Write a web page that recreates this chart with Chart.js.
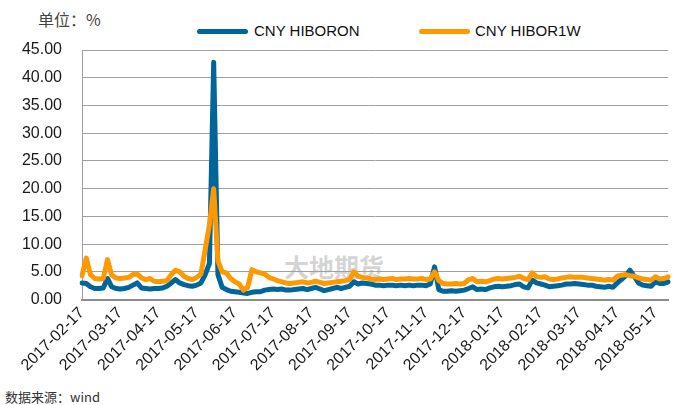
<!DOCTYPE html>
<html>
<head>
<meta charset="utf-8">
<script src="https://cdn.jsdelivr.net/npm/chart.js@4.4.1/dist/chart.umd.min.js"></script>
<style>
  body { margin: 0; background: #fff; }
  #wrap { position: relative; width: 673px; height: 405px; overflow: hidden; font-family: "Liberation Sans", Arial, sans-serif; }
  #chart { position: absolute; left: 0; top: 0; z-index: 1; }
  .txt { position: absolute; white-space: nowrap; }
  #unit { left: 38px; top: 7px; font: 16px "Noto Sans CJK SC", sans-serif; color: #444; }
  #src { left: 5px; top: 387px; font: 13px "Noto Sans CJK SC", sans-serif; color: #333; }
  #mark { left: 284px; top: 248px; font: bold 25px "Noto Sans CJK SC", sans-serif; color: rgba(120,120,120,0.33); z-index: 0; }
  .key { position: absolute; top: 29px; width: 51px; height: 5px; border-radius: 3px; }
  .ktxt { position: absolute; top: 22px; font-size: 15px; color: #111; }
</style>
</head>
<body>
<div id="wrap">
  <div id="mark" class="txt">大地期货</div>
  <canvas id="chart" width="673" height="405"></canvas>
  <div id="unit" class="txt">单位：%</div>
  <div class="key" style="left:197px;background:#00659b"></div>
  <div class="ktxt" style="left:254px">CNY HIBORON</div>
  <div class="key" style="left:419px;background:#ff9900"></div>
  <div class="ktxt" style="left:475px">CNY HIBOR1W</div>
  <div id="src" class="txt">数据来源：wind</div>
</div>
<script>
// 日期（约每3-4天取一个点）
const dates = [
  '2017-02-17','2017-02-20','2017-02-24','2017-02-27',
  '2017-03-01','2017-03-04','2017-03-08','2017-03-11','2017-03-14','2017-03-17','2017-03-20','2017-03-24','2017-03-27',
  '2017-04-01','2017-04-04','2017-04-08','2017-04-11','2017-04-14','2017-04-17','2017-04-20','2017-04-24','2017-04-27',
  '2017-05-01','2017-05-04','2017-05-08','2017-05-11','2017-05-14','2017-05-17','2017-05-20','2017-05-24','2017-05-27',
  '2017-06-01','2017-06-04','2017-06-08','2017-06-11','2017-06-14','2017-06-17','2017-06-20','2017-06-24','2017-06-27',
  '2017-07-01','2017-07-04','2017-07-08','2017-07-11','2017-07-14','2017-07-17','2017-07-20','2017-07-24','2017-07-27',
  '2017-08-01','2017-08-04','2017-08-08','2017-08-11','2017-08-14','2017-08-17','2017-08-20','2017-08-24','2017-08-27',
  '2017-09-01','2017-09-04','2017-09-08','2017-09-11','2017-09-14','2017-09-17','2017-09-20','2017-09-24','2017-09-27',
  '2017-10-01','2017-10-04','2017-10-08','2017-10-11','2017-10-14','2017-10-17','2017-10-20','2017-10-24','2017-10-27',
  '2017-11-01','2017-11-04','2017-11-08','2017-11-11','2017-11-14','2017-11-17','2017-11-20','2017-11-24','2017-11-27',
  '2017-12-01','2017-12-04','2017-12-08','2017-12-11','2017-12-14','2017-12-17','2017-12-20','2017-12-24','2017-12-27',
  '2018-01-01','2018-01-04','2018-01-08','2018-01-11','2018-01-14','2018-01-17','2018-01-20','2018-01-24','2018-01-27',
  '2018-02-01','2018-02-04','2018-02-08','2018-02-11','2018-02-14','2018-02-17','2018-02-20','2018-02-24','2018-02-27',
  '2018-03-01','2018-03-04','2018-03-08','2018-03-11','2018-03-14','2018-03-17','2018-03-20','2018-03-24','2018-03-27',
  '2018-04-01','2018-04-04','2018-04-08','2018-04-11','2018-04-14','2018-04-17','2018-04-20','2018-04-24','2018-04-27',
  '2018-05-01','2018-05-04','2018-05-08','2018-05-11','2018-05-14','2018-05-17','2018-05-20','2018-05-24','2018-05-27'
];

// 坐标轴上显示的日期
const tickLabels = [
  '2017-02-17','2017-03-17','2017-04-17','2017-05-17','2017-06-17','2017-07-17','2017-08-17','2017-09-17',
  '2017-10-17','2017-11-17','2017-12-17','2018-01-17','2018-02-17','2018-03-17','2018-04-17','2018-05-17'
];

// CNY HIBOR 隔夜
const hiborON = [
  3.0, 2.9, 2.3, 2.0, 2.0, 2.1, 3.8, 2.3, 2.0, 1.9,
  2.0, 2.2, 2.6, 3.0, 2.1, 2.0, 1.9, 2.0, 2.0, 2.1,
  2.4, 3.0, 3.6, 3.0, 2.7, 2.5, 2.4, 2.6, 3.0, 4.5,
  6.5, 42.8, 4.5, 2.2, 1.8, 1.5, 1.4, 1.3, 1.2, 1.1,
  1.3, 1.4, 1.4, 1.7, 1.8, 1.9, 1.8, 1.9, 1.7, 1.7,
  1.8, 1.9, 2.0, 1.8, 2.0, 2.2, 1.9, 1.6, 1.8, 2.0,
  2.2, 2.0, 2.2, 2.4, 3.2, 2.8, 3.0, 2.9, 2.8, 2.6,
  2.6, 2.5, 2.6, 2.6, 2.5, 2.6, 2.5, 2.6, 2.5, 2.6,
  2.6, 2.5, 2.8, 5.9, 1.8, 1.5, 1.5, 1.6, 1.5, 1.6,
  1.7, 2.0, 2.3, 1.8, 1.9, 1.8, 2.1, 2.3, 2.4, 2.3,
  2.4, 2.5, 2.7, 2.8, 2.3, 2.1, 3.5, 3.0, 2.8, 2.6,
  2.3, 2.4, 2.5, 2.6, 2.8, 2.8, 2.9, 2.8, 2.7, 2.6,
  2.6, 2.4, 2.3, 2.2, 2.4, 2.2, 3.0, 3.6, 4.3, 5.3,
  4.2, 3.0, 2.6, 2.5, 2.4, 3.2, 2.9, 2.9, 3.2
];

// CNY HIBOR 1周
const hibor1W = [
  4.3, 7.5, 4.5, 3.8, 3.7, 3.8, 7.2, 4.4, 3.9, 3.8,
  3.9, 4.0, 4.5, 4.6, 3.9, 3.6, 3.8, 3.3, 3.2, 3.3,
  3.4, 4.5, 5.3, 5.0, 4.2, 3.8, 3.6, 4.0, 4.6, 9.0,
  13.5, 20.0, 7.0, 5.0, 4.8, 3.8, 3.2, 2.8, 1.7, 2.2,
  5.4, 5.0, 4.8, 4.6, 4.0, 3.7, 3.4, 3.2, 3.0, 2.9,
  3.0, 3.1, 3.2, 3.0, 3.1, 3.3, 3.1, 2.9, 3.0, 3.1,
  3.2, 3.3, 3.4, 3.6, 5.0, 4.2, 4.0, 3.9, 3.7, 3.6,
  3.7, 3.6, 3.7, 3.8, 3.6, 3.7, 3.7, 3.8, 3.7, 3.7,
  3.8, 3.6, 3.7, 5.0, 3.4, 2.9, 2.8, 2.8, 2.9, 2.8,
  2.9, 3.6, 3.8, 3.2, 3.3, 3.2, 3.4, 3.7, 3.8, 3.7,
  3.8, 3.9, 4.0, 4.2, 3.8, 3.6, 4.8, 4.1, 4.0, 4.1,
  3.7, 3.6, 3.7, 3.9, 4.0, 4.1, 4.0, 4.0, 4.0, 3.9,
  3.8, 3.7, 3.6, 3.5, 3.6, 3.5, 4.2, 4.4, 4.5, 4.3,
  4.2, 3.9, 3.7, 3.6, 3.5, 4.1, 3.7, 3.8, 4.1
];

const ctx = document.getElementById('chart').getContext('2d');

new Chart(ctx, {
  type: 'line',
  data: {
    labels: dates,
    datasets: [
      {
        label: 'CNY HIBORON',
        data: hiborON,
        borderColor: '#00659b',
        backgroundColor: '#00659b',
        borderWidth: 5,
        pointRadius: 0,
        borderJoinStyle: 'round',
        borderCapStyle: 'round',
        order: 2
      },
      {
        label: 'CNY HIBOR1W',
        data: hibor1W,
        borderColor: '#ff9900',
        backgroundColor: '#ff9900',
        borderWidth: 5,
        pointRadius: 0,
        borderJoinStyle: 'round',
        borderCapStyle: 'round',
        order: 1
      }
    ]
  },
  options: {
    responsive: false,
    animation: false,
    devicePixelRatio: 1,
    layout: { padding: { top: 50, right: 0, bottom: 26, left: 0 } },
    plugins: {
      legend: { display: false },
      tooltip: { enabled: false }
    },
    scales: {
      x: {
        type: 'category',
        offset: false,
        grid: { display: false, drawTicks: false },
        border: { display: true, color: '#8c8c8c', width: 2 },
        ticks: {
          autoSkip: false,
          minRotation: 45,
          maxRotation: 45,
          padding: 4,
          color: '#1a1a1a',
          font: { family: 'Liberation Sans', size: 16 }
        },
        afterBuildTicks: (axis) => {
          axis.ticks = axis.ticks.filter(t => tickLabels.includes(dates[t.value]));
        }
      },
      y: {
        min: 0,
        max: 45,
        grid: { color: '#a0a0a0', lineWidth: 1, drawTicks: false },
        border: { display: true, color: '#a0a0a0', width: 1 },
        ticks: {
          stepSize: 5,
          padding: 20,
          color: '#1a1a1a',
          font: { family: 'Liberation Sans', size: 16 },
          callback: (v) => Number(v).toFixed(2)
        },
        afterFit: (axis) => { axis.width = 82; }
      }
    }
  }
});
</script>
</body>
</html>
